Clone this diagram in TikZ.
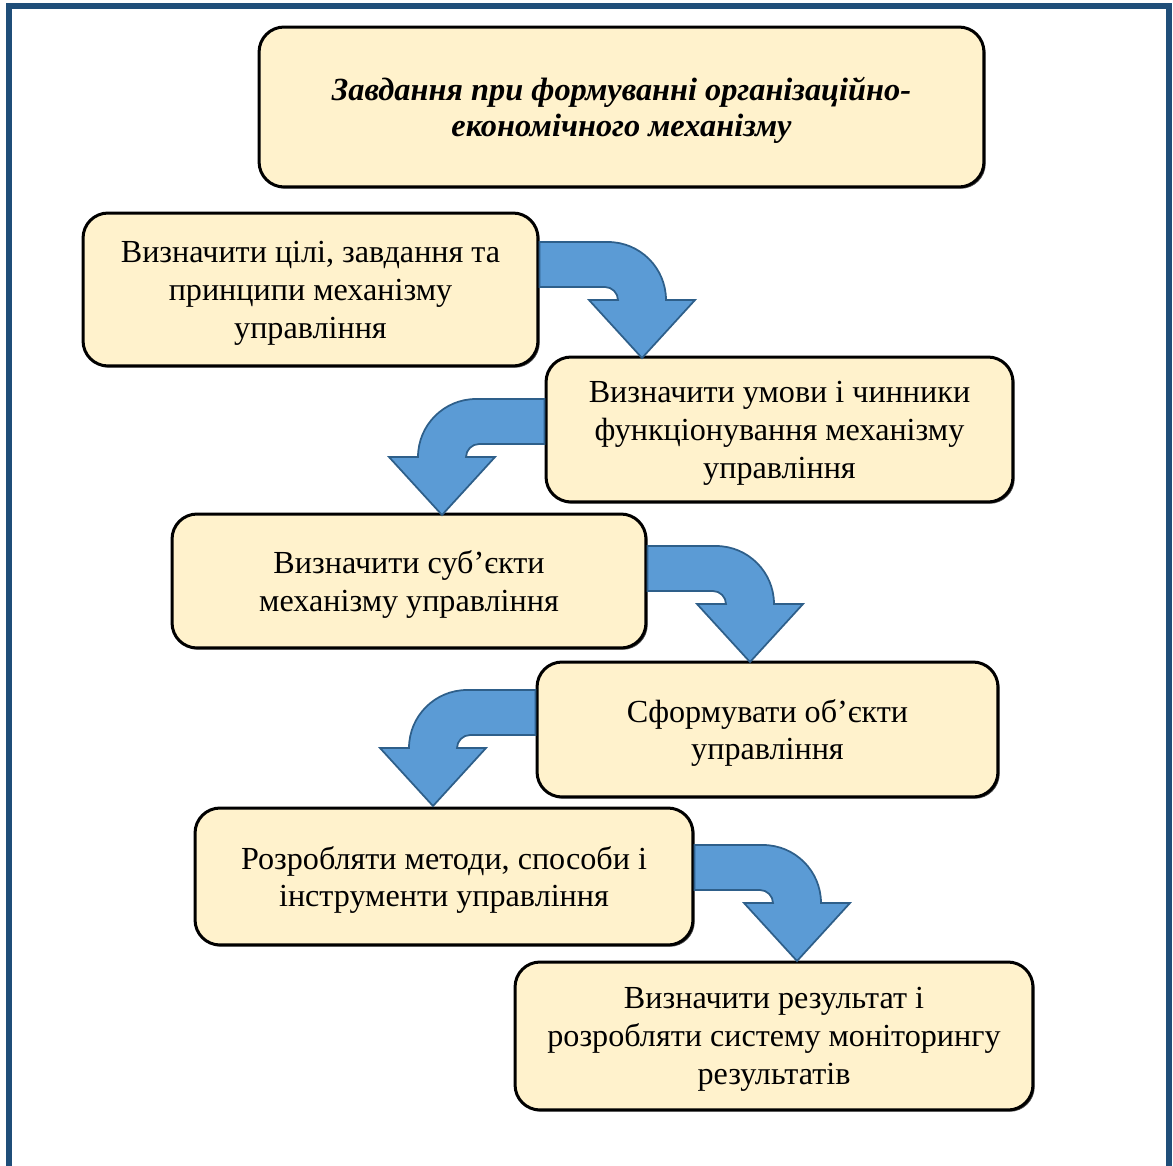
\documentclass[tikz,border=0pt]{standalone}
\usepackage{fontspec}
\setmainfont{Liberation Serif}
\usetikzlibrary{shadows}

\definecolor{boxfill}{HTML}{FFF2CC}
\definecolor{arrowfill}{HTML}{5B9BD5}
\definecolor{arrowline}{HTML}{2E5F8A}
\definecolor{framecol}{HTML}{1F4E79}

\tikzset{
  stage/.style={draw=black, line width=0.06cm, fill=boxfill, rounded corners=0.5cm,
    align=center, inner sep=0pt, text depth=-0.1cm, font=\fontsize{18.3}{21.6}\selectfont,
    drop shadow={shadow xshift=0.035cm, shadow yshift=-0.035cm, fill=black!70, opacity=1}},
  blockarrow/.style={draw=arrowline, line width=0.035cm, fill=arrowfill, line join=miter}
}

% #1 start anchor, #2 shaft top y, #3 tip x, #4 direction (1 right, -1 left)
\newcommand{\bentarrow}[4]{%
  \draw[blockarrow] (#1 |- 0,#2) -- ({#3-34*#4},#2)
    .. controls ({#3-2*#4},#2) and ({#3+24*#4},{#2+26}) .. ({#3+24*#4},{#2+58})
    -- ({#3+53*#4},{#2+58}) -- (#3,{#2+116}) -- ({#3-53*#4},{#2+58}) -- ({#3-24*#4},{#2+58})
    .. controls ({#3-24*#4},{#2+51}) and ({#3-30*#4},{#2+45}) .. ({#3-37*#4},{#2+45})
    -- (#1 |- 0,{#2+45}) -- cycle;}

\begin{document}
\begin{tikzpicture}[x=0.02cm, y=-0.02cm]
        \useasboundingbox (0,0) rectangle (1173,1166);
        % frame
        \draw[framecol, line width=0.12cm] (9,1166) -- (9,6) -- (1169,6) -- (1169,1166);

        \node[stage, minimum width=14.5cm, minimum height=3.2cm,
          font=\fontsize{18.4}{20.5}\selectfont\bfseries\itshape] (title) at (621.5,107)
          {Завдання при формуванні організаційно-\\економічного механізму};
        \node[stage, minimum width=9.1cm, minimum height=3.06cm] (goals) at (310.5,289.5)
          {Визначити цілі, завдання та\\принципи механізму\\управління};
        \node[stage, minimum width=9.34cm, minimum height=2.9cm] (factors) at (779.5,429.5)
          {Визначити умови і чинники\\функціонування механізму\\управління};
        \node[stage, minimum width=9.48cm, minimum height=2.68cm] (subjects) at (409,581)
          {Визначити суб’єкти\\механізму управління};
        \node[stage, minimum width=9.22cm, minimum height=2.7cm] (objects) at (767.5,729.5)
          {Сформувати об’єкти\\управління};
        \node[stage, minimum width=9.96cm, minimum height=2.74cm] (methods) at (444,876.5)
          {Розробляти методи, способи і\\інструменти управління};
        \node[stage, minimum width=10.36cm, minimum height=2.96cm] (results) at (774,1036)
          {Визначити результат і\\розробляти систему моніторингу\\результатів};

        \bentarrow{goals.east}{242}{642}{1}
        \bentarrow{factors.west}{399}{442}{-1}
        \bentarrow{subjects.east}{546}{750}{1}
        \bentarrow{objects.west}{690}{433}{-1}
        \bentarrow{methods.east}{845}{797}{1}
\end{tikzpicture}
\end{document}
